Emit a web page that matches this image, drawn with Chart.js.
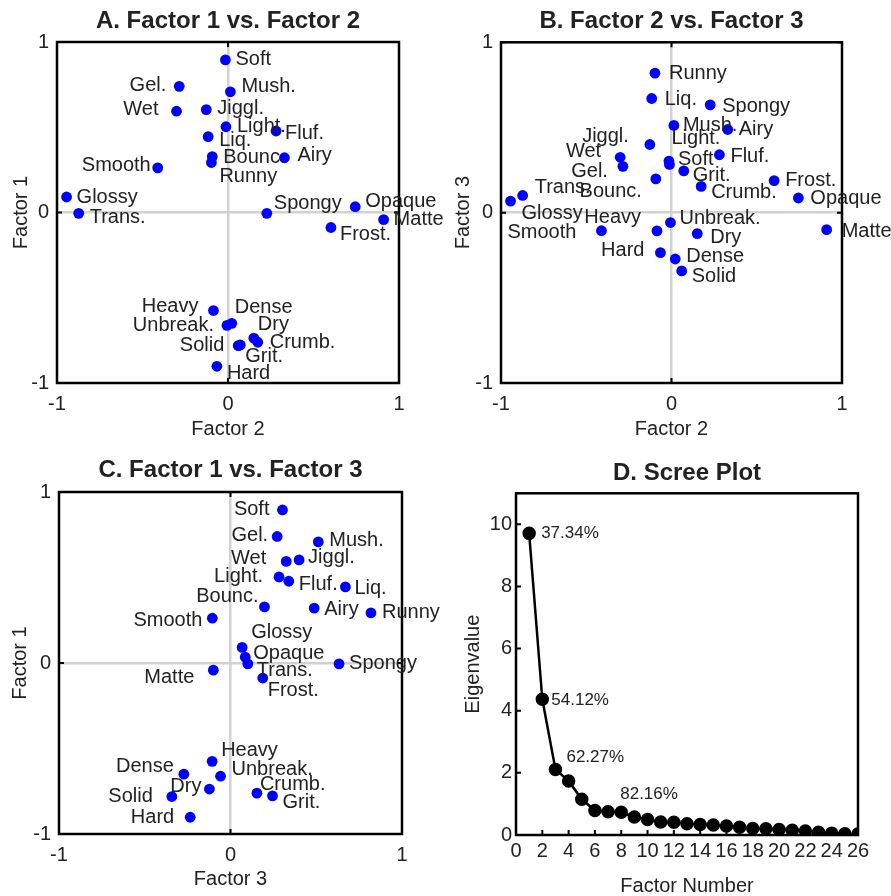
<!DOCTYPE html>
<html lang="en">
<head>
    <meta charset="UTF-8">
    <title>Factor Analysis</title>
    <script src="https://cdn.jsdelivr.net/npm/chart.js"></script>
    <style>
        body {
            margin: 0;
            background: white;
            width: 891px;
            height: 896px;
            position: relative;
            overflow: hidden;
        }
        canvas {
            position: absolute; /* each panel is placed by hand */
        }
    </style>
</head>
<body>
    <canvas id="panelA" width="445" height="448" style="left:0;top:0"></canvas>
    <canvas id="panelB" width="446" height="448" style="left:445px;top:0"></canvas>
    <canvas id="panelC" width="445" height="448" style="left:0;top:448px"></canvas>
    <canvas id="panelD" width="446" height="448" style="left:445px;top:448px"></canvas>
    <script>
        // loadings of each descriptor on the three factors
        const items   = ['Soft', 'Gel.', 'Mush.', 'Wet', 'Jiggl.', 'Light.', 'Fluf.', 'Liq.', 'Airy', 'Bounc.', 'Runny', 'Smooth', 'Glossy',
                         'Trans.', 'Spongy', 'Opaque', 'Matte', 'Frost.', 'Heavy', 'Unbreak.', 'Dense', 'Dry', 'Crumb.', 'Solid', 'Grit.', 'Hard'];
        const factor1 = [0.895, 0.740, 0.708, 0.594, 0.603, 0.503, 0.478, 0.445, 0.321, 0.328, 0.293, 0.262, 0.091,
                         -0.005, -0.005, 0.034, -0.042, -0.088, -0.575, -0.662, -0.650, -0.737, -0.761, -0.781, -0.777, -0.902];
        const factor2 = [-0.015, -0.285, 0.014, -0.301, -0.127, -0.012, 0.281, -0.116, 0.330, -0.092, -0.097, -0.411, -0.944,
                         -0.873, 0.227, 0.744, 0.910, 0.602, -0.085, -0.006, 0.022, 0.151, 0.174, 0.060, 0.072, -0.065];
        const factor3 = [0.303, 0.272, 0.512, 0.325, 0.400, 0.283, 0.340, 0.670, 0.488, 0.198, 0.819, -0.106, 0.068,
                         0.101, 0.633, 0.086, -0.100, 0.188, -0.107, -0.058, -0.272, -0.123, 0.154, -0.342, 0.245, -0.235];

        // scree plot
        const factorNumbers = [1, 2, 3, 4, 5, 6, 7, 8, 9, 10, 11, 12, 13, 14, 15, 16, 17, 18, 19, 20, 21, 22, 23, 24, 25, 26];
        const eigenvalues   = [9.71, 4.37, 2.11, 1.74, 1.15, 0.79, 0.75, 0.73, 0.58, 0.50, 0.42, 0.41, 0.36,
                               0.34, 0.32, 0.29, 0.25, 0.21, 0.20, 0.18, 0.15, 0.13, 0.09, 0.06, 0.04, 0.03];
        const varianceLabels = ['37.34%', '54.12%', '62.27%', '82.16%'];
        const varianceAt     = [1, 2, 3, 8];

        const textColor = '#222';
        const fontFamily = "'Liberation Sans', Arial, sans-serif";

        // where each label sits next to its dot: [dx, dy, align]
        const placeA = {
            'Gel.': [-13, -1, 'right'], 'Mush.': [11, -5], 'Wet': [-18, -2, 'right'], 'Jiggl.': [11, -1],
            'Light.': [11, 0], 'Fluf.': [9, 2], 'Liq.': [11, 4], 'Bounc.': [11, 1], 'Runny': [8, 14],
            'Airy': [13, -2], 'Smooth': [-7, -2, 'right'], 'Trans.': [11, 4], 'Spongy': [7, -10],
            'Opaque': [10, -5], 'Frost.': [9, 7], 'Heavy': [-15, -4, 'right'], 'Dense': [3, -16],
            'Unbreak.': [-13, 0, 'right'], 'Dry': [4, -14], 'Crumb.': [12, 0], 'Solid': [-14, 0, 'right'],
            'Grit.': [5, 12], 'Hard': [10, 7]
        };
        const placeB = {
            'Runny': [14, 0], 'Liq.': [13, 1], 'Spongy': [12, 2], 'Mush.': [9, 0], 'Airy': [11, 0],
            'Jiggl.': [-21, -8, 'right'], 'Light.': [2, -26], 'Soft': [9, -2], 'Wet': [-19, -6, 'right'],
            'Gel.': [-15, 5, 'right'], 'Fluf.': [11, 2], 'Grit.': [9, 5], 'Bounc.': [-14, 13, 'right'],
            'Frost.': [11, 0], 'Crumb.': [10, 6], 'Opaque': [12, 0], 'Trans.': [12, -8], 'Glossy': [11, 12],
            'Unbreak.': [9, -4], 'Smooth': [-25, 2, 'right'], 'Heavy': [-16, -13, 'right'], 'Dry': [13, 4],
            'Matte': [15, 2], 'Hard': [-16, -2, 'right'], 'Dense': [11, -3], 'Solid': [10, 6]
        };
        const placeC = {
            'Soft': [-13, 0, 'right'], 'Gel.': [-9, -1, 'right'], 'Mush.': [11, -1], 'Wet': [-20, -3, 'right'],
            'Jiggl.': [9, -2], 'Light.': [-16, -1, 'right'], 'Fluf.': [10, 3], 'Liq.': [9, 2],
            'Bounc.': [-6, -10, 'right'], 'Airy': [10, 1], 'Runny': [11, 0], 'Smooth': [-10, 2, 'right'],
            'Glossy': [9, -15], 'Opaque': [8, -4], 'Trans.': [9, 7], 'Spongy': [10, 0], 'Matte': [-19, 7, 'right'],
            'Frost.': [5, 12], 'Heavy': [9, -11], 'Dense': [-10, -8, 'right'], 'Unbreak.': [11, -7],
            'Dry': [-8, -3, 'right'], 'Crumb.': [3, -9], 'Grit.': [10, 7], 'Solid': [-19, 0, 'right'], 'Hard': [-16, 0, 'right']
        };
        const placeScree = [[12, 0], [9, 1], [11, -12], [-1, -18]];

        // black box round the plot area with small inward ticks
        const framePlugin = {
            id: 'frame',
            beforeDatasetsDraw(chart, args, opts) {
                const { ctx, chartArea: a, scales } = chart;
                const t = 5;
                ctx.save();
                ctx.strokeStyle = '#000';
                ctx.lineWidth = 2;
                ctx.beginPath();
                scales.x.ticks.forEach(tick => {
                    const px = scales.x.getPixelForValue(tick.value);
                    ctx.moveTo(px, a.bottom); ctx.lineTo(px, a.bottom - t);
                    if (opts.allSides) { ctx.moveTo(px, a.top); ctx.lineTo(px, a.top + t); }
                });
                scales.y.ticks.forEach(tick => {
                    const py = scales.y.getPixelForValue(tick.value);
                    ctx.moveTo(a.left, py); ctx.lineTo(a.left + t, py);
                    if (opts.allSides) { ctx.moveTo(a.right, py); ctx.lineTo(a.right - t, py); }
                });
                ctx.stroke();
                ctx.lineWidth = 2.5;
                ctx.strokeRect(a.left, a.top, a.right - a.left, a.bottom - a.top);
                ctx.restore();
            }
        };

        // descriptor names next to the dots
        const labelPlugin = {
            id: 'pointNames',
            afterDatasetsDraw(chart, args, opts) {
                if (!opts.names) return;
                const ctx = chart.ctx;
                const points = chart.getDatasetMeta(0).data;
                ctx.save();
                ctx.font = opts.size + 'px ' + fontFamily;
                ctx.fillStyle = textColor;
                ctx.textBaseline = 'middle';
                opts.names.forEach((name, i) => {
                    const p = opts.place[i] || [10, 0, 'left'];
                    const pt = points[opts.index ? opts.index[i] - 1 : i];
                    ctx.textAlign = p[2] || 'left';
                    ctx.fillText(name, pt.x + p[0], pt.y + p[1]);
                });
                ctx.restore();
            }
        };

        function axis(title, fitSize, opts) {
            return {
                type: 'linear',
                min: opts.min,
                max: opts.max,
                ticks: { stepSize: opts.step, color: textColor, font: { size: 20, family: fontFamily }, padding: opts.tickPad,
                         autoSkip: false, maxRotation: 0 },
                grid: {
                    display: opts.zeroLine,
                    color: c => c.tick && c.tick.value === 0 ? '#d2d2d2' : 'rgba(0,0,0,0)',
                    lineWidth: 2.5,
                    drawTicks: false
                },
                border: { display: false },
                title: { display: true, text: title, color: textColor, font: { size: 20, family: fontFamily, lineHeight: opts.titleLH || 1.2 },
                         padding: opts.titlePad },
                afterBuildTicks: opts.keepTicks ? s => { s.ticks = s.ticks.filter(opts.keepTicks); } : undefined,
                afterFit: s => { if (s.isHorizontal()) s.height = fitSize; else s.width = fitSize; }
            };
        }

        function scatterPanel(id, title, xTitle, yTitle, xs, ys, place, box) {
            const data = items.map((n, i) => ({ x: xs[i], y: ys[i] }));
            return new Chart(document.getElementById(id), {
                type: 'scatter',
                data: { datasets: [{ data: data, backgroundColor: '#0000ff', borderWidth: 0, pointRadius: 5.4, pointHoverRadius: 5.4 }] },
                options: {
                    responsive: false,
                    animation: false,
                    layout: { padding: { left: 0, right: box.right, top: 0, bottom: 0 } },
                    scales: {
                        x: axis(xTitle, box.xh, { min: -1, max: 1, step: 1, zeroLine: true, tickPad: box.xtp, titlePad: { top: 0, bottom: box.xtt } }),
                        y: axis(yTitle, box.yw, { min: -1, max: 1, step: 1, zeroLine: true, tickPad: 8, titlePad: { top: box.ytt, bottom: 0 } })
                    },
                    plugins: {
                        legend: { display: false },
                        tooltip: { enabled: false },
                        title: { display: true, text: title, fullSize: false, color: textColor,
                                 font: { size: 24, weight: 'bold', family: fontFamily }, padding: box.tp },
                        frame: { allSides: true },
                        pointNames: { names: items, place: items.map(n => place[n]), size: 20 }
                    }
                },
                plugins: [framePlugin, labelPlugin]
            });
        }

        scatterPanel('panelA', 'A. Factor 1 vs. Factor 2', 'Factor 2', 'Factor 1', factor2, factor1, placeA,
            { right: 46, xh: 65, yw: 57, xtp: 9, xtt: 7, ytt: 9, tp: { top: 7, bottom: 6.2 } });
        scatterPanel('panelB', 'B. Factor 2 vs. Factor 3', 'Factor 2', 'Factor 3', factor2, factor3, placeB,
            { right: 49, xh: 65, yw: 56, xtp: 9, xtt: 7, ytt: 6, tp: { top: 7, bottom: 6.5 } });
        scatterPanel('panelC', 'C. Factor 1 vs. Factor 3', 'Factor 3', 'Factor 1', factor3, factor1, placeC,
            { right: 43, xh: 62, yw: 59, xtp: 9, xtt: 5, ytt: 8, tp: { top: 7.6, bottom: 7.6 } });

        new Chart(document.getElementById('panelD'), {
            type: 'scatter',
            data: {
                datasets: [{
                    data: factorNumbers.map((f, i) => ({ x: f, y: eigenvalues[i] })),
                    showLine: true,
                    borderColor: '#000',
                    borderWidth: 2.5,
                    backgroundColor: '#000',
                    pointRadius: 5.5,
                    pointHoverRadius: 5.5
                }]
            },
            options: {
                responsive: false,
                animation: false,
                layout: { padding: { left: 0, right: 33, top: 0, bottom: 0 } },
                scales: {
                    x: axis('Factor Number', 61, { min: 0, max: 26, step: 2, zeroLine: false, tickPad: 4, titleLH: 1,
                                                   titlePad: { top: 0, bottom: 0 } }),
                    y: axis('Eigenvalue', 71, { min: 0, max: 11, step: 2, zeroLine: false, tickPad: 4,
                                                titlePad: { top: 16, bottom: 0 }, keepTicks: t => t.value <= 10 })
                },
                plugins: {
                    legend: { display: false },
                    tooltip: { enabled: false },
                    title: { display: true, text: 'D. Scree Plot', fullSize: false, color: textColor,
                             font: { size: 24, weight: 'bold', family: fontFamily }, padding: { top: 10.9, bottom: 5.6 } },
                    frame: { allSides: false },
                    pointNames: { names: varianceLabels, index: varianceAt, place: placeScree, size: 17 }
                }
            },
            plugins: [framePlugin, labelPlugin]
        });
    </script>
</body>
</html>
